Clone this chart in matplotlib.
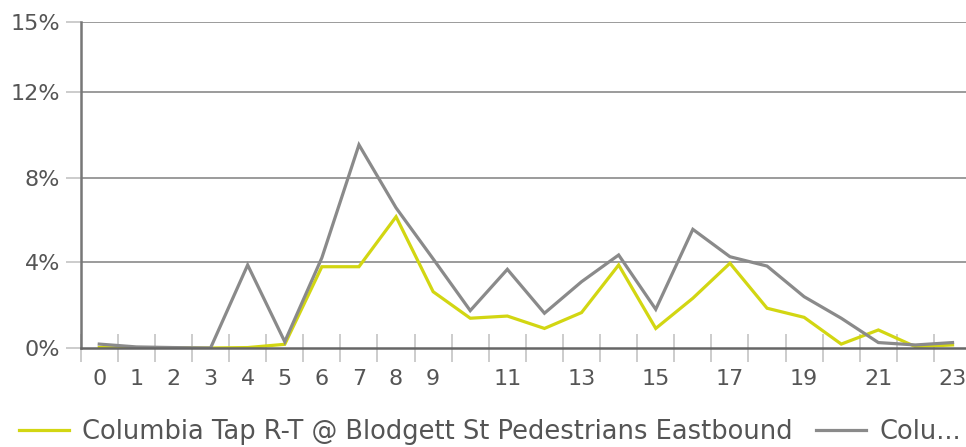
import matplotlib
matplotlib.use('Agg')
import matplotlib.pyplot as plt

# 每小时流量占比 (%)
hours = list(range(24))
hour_labels = ['0', '1', '2', '3', '4', '5', '6', '7', '8', '9', '', '11', '', '13',
               '', '15', '', '17', '', '19', '', '21', '', '23']
eastbound = [0.02, 0.0, 0.0, 0.0, 0.02, 0.17, 3.74, 3.74, 6.04, 2.59, 1.37, 1.47,
             0.9, 1.63, 3.82, 0.9, 2.29, 3.9, 1.83, 1.41, 0.18, 0.83, 0.06, 0.14]
other = [0.18, 0.05, 0.02, 0.0, 3.82, 0.29, 4.15, 9.35, 6.45, 4.1, 1.72, 3.62,
         1.6, 3.05, 4.28, 1.78, 5.46, 4.2, 3.77, 2.36, 1.37, 0.25, 0.14, 0.25]
y_ticks = [0, 3.95, 7.8, 11.8, 15]
y_labels = ['0%', '4%', '8%', '12%', '15%']
names = ['Columbia Tap R-T @ Blodgett St Pedestrians Eastbound', 'Colu...']

plt.rcParams['font.family'] = ['DejaVu Sans']
fig = plt.figure(figsize=(9.66, 4.47), dpi=100)
ax = fig.add_axes([80.7 / 966, 99 / 447, 890.4 / 966, 326 / 447])

l1, = ax.plot(hours, eastbound, color='#d2d612', lw=2.3, solid_joinstyle='miter')
l2, = ax.plot(hours, other, color='#8a8a8a', lw=2.3, solid_joinstyle='miter')

ax.set_xlim(-0.5, 23.5)
ax.set_ylim(0, 15)

# 网格线
for v in y_ticks[1:]:
    ax.axhline(v, color='#8a8a8a', lw=1.2, zorder=0)

ax.set_yticks(y_ticks)
ax.set_yticklabels(y_labels)
ax.tick_params(axis='y', length=11, width=1.2, color='#c4c4c4', labelsize=16,
               labelcolor='#555555', pad=4)

ax.set_xticks([h - 0.5 for h in hours] + [23.5])
ax.set_xticklabels([])
ax.set_xticks(hours, minor=True)
ax.set_xticklabels(hour_labels, minor=True)
ax.tick_params(axis='x', which='major', direction='inout', length=20, width=1.2,
               color='#c4c4c4')
ax.tick_params(axis='x', which='minor', length=0, labelsize=16,
               labelcolor='#555555', pad=15)

for s in ['top', 'right']:
    ax.spines[s].set_visible(False)
ax.spines['left'].set_color('#777777')
ax.spines['left'].set_linewidth(1.8)
ax.spines['bottom'].set_color('#666666')
ax.spines['bottom'].set_linewidth(1.8)

fig.legend([l1, l2], names, loc='center left', bbox_to_anchor=(19 / 966, 15 / 447),
           ncol=2, frameon=False, fontsize=18.5, labelcolor='#555555',
           handlelength=1.95, handletextpad=0.52, columnspacing=0.9,
           borderpad=0, borderaxespad=0)

plt.savefig('out.png', dpi=100)
